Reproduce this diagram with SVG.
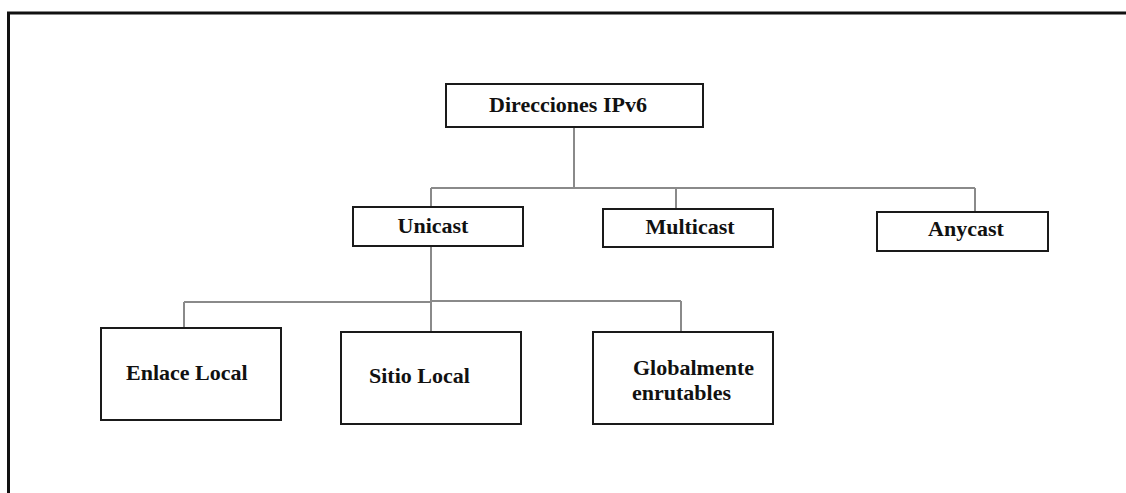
<svg xmlns="http://www.w3.org/2000/svg" width="1126" height="493" viewBox="0 0 1126 493">
  <style>
    .box { fill: #ffffff; stroke: #1a1a1a; stroke-width: 2; }
    .lbl { font-family: "Liberation Serif", "Times New Roman", serif; font-weight: bold; font-size: 22px; fill: #111111; }
    .link { fill: none; stroke: #8a8a8a; stroke-width: 2; }
  </style>
  <rect width="1126" height="493" fill="#ffffff"/>
  <!-- outer frame -->
  <path d="M8.5,493 V13 H1126" fill="none" stroke="#111111" stroke-width="3"/>

  <g id="connectors">
    <path class="link" d="M574,127 V188"/>
    <path class="link" d="M431,188 H975"/>
    <path class="link" d="M431,188 V207"/>
    <path class="link" d="M676,188 V209"/>
    <path class="link" d="M975,188 V212"/>
    <path class="link" d="M431,246 V332"/>
    <path class="link" d="M184,302 H431"/>
    <path class="link" d="M431,301 H681"/>
    <path class="link" d="M184,302 V328"/>
    <path class="link" d="M681,301 V332"/>
  </g>

  <g id="direcciones">
    <rect class="box" x="446" y="84" width="257" height="43"/>
    <text class="lbl" x="568" y="112" text-anchor="middle">Direcciones IPv6</text>
  </g>
  <g id="unicast">
    <rect class="box" x="353" y="207" width="170" height="39"/>
    <text class="lbl" x="433" y="233" text-anchor="middle">Unicast</text>
  </g>
  <g id="multicast">
    <rect class="box" x="603" y="209" width="170" height="38"/>
    <text class="lbl" x="690" y="234" text-anchor="middle">Multicast</text>
  </g>
  <g id="anycast">
    <rect class="box" x="877" y="212" width="171" height="39"/>
    <text class="lbl" x="966" y="236" text-anchor="middle">Anycast</text>
  </g>
  <g id="enlace-local">
    <rect class="box" x="101" y="328" width="180" height="92"/>
    <text class="lbl" x="126" y="380">Enlace Local</text>
  </g>
  <g id="sitio-local">
    <rect class="box" x="341" y="332" width="180" height="92"/>
    <text class="lbl" x="369" y="383">Sitio Local</text>
  </g>
  <g id="globalmente-enrutables">
    <rect class="box" x="593" y="332" width="180" height="92"/>
    <text class="lbl" x="633" y="375" font-size="21">Globalmente</text>
    <text class="lbl" x="632" y="400" font-size="21">enrutables</text>
  </g>
</svg>
